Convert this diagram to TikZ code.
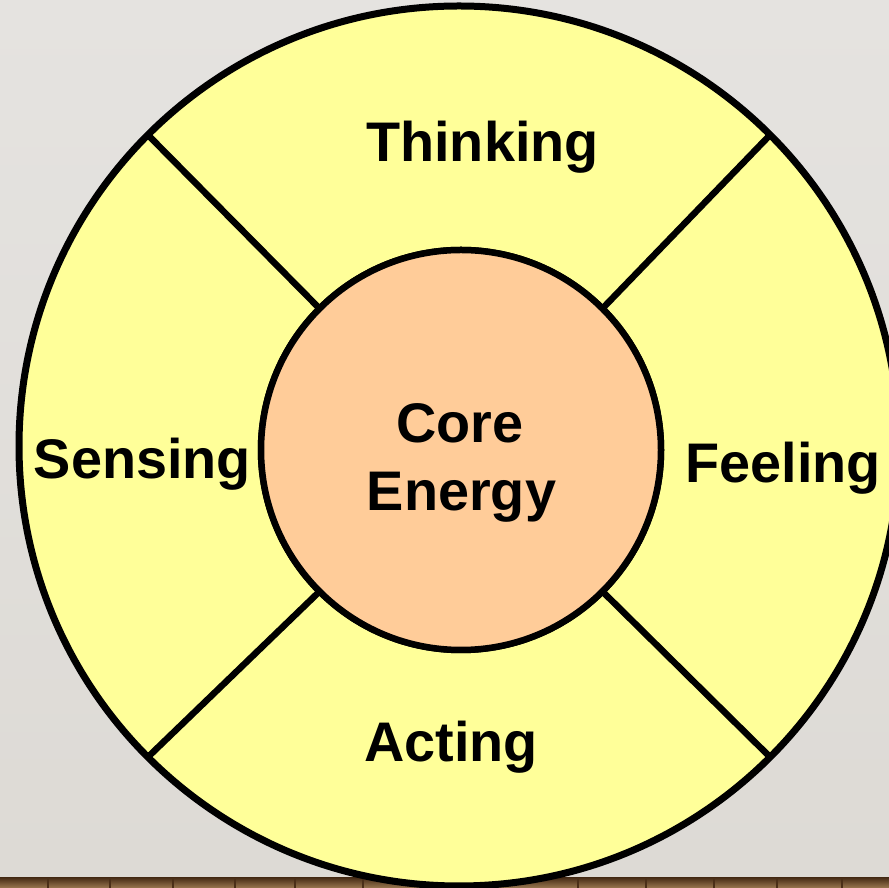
\documentclass[tikz,border=0pt]{standalone}
\usepackage{fontspec}
\setmainfont{Liberation Sans}
\begin{document}
\begin{tikzpicture}[x=1pt,y=1pt,
  ring/.style={circle,draw=black,line width=7pt,fill=ringyellow,minimum size=880pt,inner sep=0pt,outer sep=0pt},
  corecircle/.style={circle,draw=black,line width=6.5pt,fill=corepeach,minimum size=400pt,inner sep=0pt,outer sep=0pt},
  divider/.style={draw=black,line width=6.5pt},
  label/.style={anchor=base,inner sep=0pt,font=\fontsize{55.8}{67}\selectfont\bfseries}]
\definecolor{ringyellow}{HTML}{FFFF99}
\definecolor{corepeach}{HTML}{FFCC99}
\definecolor{wallgrey}{HTML}{E5E3E0}
\definecolor{wallgreylow}{HTML}{DDDAD5}
\definecolor{wooddark}{HTML}{4A2F18}
\definecolor{woodlight}{HTML}{9A7850}
\useasboundingbox (0,0) rectangle (889,888);
\clip (0,0) rectangle (889,888);
% wall and floor
\shade[top color=wallgrey,bottom color=wallgreylow] (0,10) rectangle (889,888);
\shade[top color=wooddark,bottom color=woodlight] (0,0) rectangle (889,10);
\foreach \px in {48,110,173,235,295,363,578,646,714,777,842}
  \draw[wooddark,line width=1.5pt] (\px,0) -- (\px,10);
% outer ring and core
\node[ring] (outer) at (459,442) {};
\node[corecircle] (core) at (461,438) {};
\foreach \a in {45,135,225,315}
  \draw[divider] (core.\a) -- (outer.\a);
\node[corecircle] at (core.center) {};
% labels
\node[label] (thinking) at (482.5,726) {Thinking};
\node[label] (sensing) at (142.5,409) {Sensing};
\node[label] (feeling) at (783,405) {Feeling};
\node[label] (acting) at (451,126) {Acting};
\node[label] (coreA) at (460,445) {Core};
\node[label] (coreB) at (461.5,377) {Energy};
\end{tikzpicture}
\end{document}
